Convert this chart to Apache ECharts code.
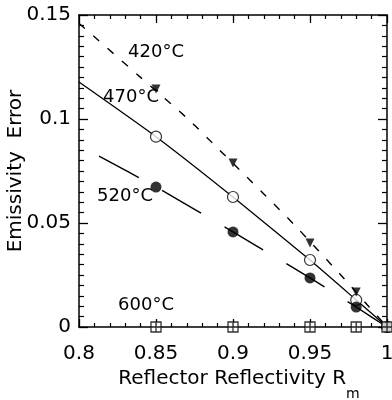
<!DOCTYPE html>
<html><head><meta charset="utf-8">
<script src="https://cdn.jsdelivr.net/npm/echarts@6/dist/echarts.min.js"></script>
<style>html,body{margin:0;padding:0;background:#fff}#c{width:392px;height:400px}</style>
</head><body><div id="c"></div>
<script>
// ---- data ----
const reflectivity = [0.85, 0.9, 0.95, 0.98, 1.0];
const err420 = [0.1144, 0.0788, 0.0404, 0.0168, 0];
const err470 = [0.0915, 0.0625, 0.0322, 0.0130, 0];
const err520 = [0.0673, 0.0457, 0.0236, 0.0096, 0];
const err600 = [0, 0, 0, 0, 0];
const curve420X = [0.8, 0.84, 0.87, 0.89, 0.92, 0.94, 0.97, 0.988, 1.0];
const curve420Y = [0.146, 0.120, 0.1005, 0.086, 0.064, 0.049, 0.025, 0.010, 0];
const curve470X = [0.8, 0.85, 0.9, 0.95, 0.98, 1.0];
const curve470Y = [0.1178, 0.0915, 0.0625, 0.0322, 0.013, 0];
const curve520X = [0.813, 0.85, 0.9, 0.95, 0.98, 1.0];
const curve520Y = [0.0822, 0.0673, 0.0457, 0.0236, 0.0096, 0];
const tempLabels = ['420°C', '470°C', '520°C', '600°C'];
const labelX = [0.850, 0.8338, 0.8299, 0.8435];
const labelY = [0.1322, 0.1106, 0.063, 0.0106];
const xTicks = { min: 0.8, max: 1.0, step: 0.05 };
const yTicks = { min: 0, max: 0.15, step: 0.05 };

// ---- build ----
const FONT = 'DejaVu Sans';
const zip = (a, b) => a.map((v, i) => [v, b[i]]);
const K = '#000';
function axisX(pos, showLabel) {
  return {
    type: 'value', position: pos, min: xTicks.min, max: xTicks.max, interval: xTicks.step,
    axisLine: { show: true, onZero: false, lineStyle: { color: K, width: 1.5 } },
    axisTick: { show: true, inside: true, length: 8, lineStyle: { color: K, width: 1.3 } },
    minorTick: { show: true, splitNumber: 5, length: 4, lineStyle: { color: K, width: 1.2 } },
    splitLine: { show: false }, minorSplitLine: { show: false },
    axisLabel: { show: showLabel, color: K, fontSize: 20, fontFamily: FONT, margin: 17 ,
      hideOverlap: false, showMinLabel: true, showMaxLabel: true },
    name: showLabel ? '{a|Reflector Reflectivity R}{s|m}' : '',
    nameLocation: 'middle', nameGap: 42, nameMoveOverlap: false,
    nameTextStyle: {
      color: K, fontFamily: FONT,
      rich: {
        a: { fontSize: 20, fontFamily: FONT, color: K, verticalAlign: 'top', lineHeight: 32, padding: [0, 0, 0, 12] },
        s: { fontSize: 14, fontFamily: FONT, color: K, verticalAlign: 'bottom', lineHeight: 32 }
      }
    }
  };
}
function axisY(pos, showLabel) {
  return {
    type: 'value', position: pos, min: yTicks.min, max: yTicks.max, interval: yTicks.step,
    axisLine: { show: true, onZero: false, lineStyle: { color: K, width: 1.5 } },
    axisTick: { show: true, inside: true, length: 9, lineStyle: { color: K, width: 1.3 } },
    minorTick: { show: true, splitNumber: 10, length: 5, lineStyle: { color: K, width: 1.2 } },
    splitLine: { show: false }, minorSplitLine: { show: false },
    axisLabel: { show: showLabel, color: K, fontSize: 20, fontFamily: FONT, margin: 8,
      showMinLabel: true, showMaxLabel: true },
    name: showLabel ? 'Emissivity  Error' : '',
    nameLocation: 'middle', nameGap: 53, nameRotate: 90, nameMoveOverlap: false,
    nameTextStyle: { color: K, fontSize: 20, fontFamily: FONT }
  };
}
const squarePlus = 'path://M0,0L10,0L10,10L0,10Z M5,0L5,10 M0,5L10,5';
const option = {
  backgroundColor: '#fff',
  animation: false,
  grid: { left: 79, right: 5, top: 15, bottom: 73, containLabel: false, outerBoundsMode: 'none' },
  xAxis: [axisX('bottom', true), axisX('top', false)],
  yAxis: [axisY('left', true), axisY('right', false)],
  series: [
    { type: 'line', data: zip(curve420X, curve420Y), smooth: 0.3, symbol: 'none',
      lineStyle: { color: K, width: 1.4, type: [8, 11] }, z: 2 },
    { type: 'line', data: zip(curve470X, curve470Y), smooth: 0.2, symbol: 'none',
      lineStyle: { color: K, width: 1.3 }, z: 2 },
    { type: 'line', data: zip(curve520X, curve520Y), smooth: 0.2, symbol: 'none',
      lineStyle: { color: K, width: 1.4, type: [45, 27] }, z: 2 },
    { type: 'scatter', data: zip(reflectivity, err420), symbol: 'triangle', symbolRotate: 180,
      symbolSize: 9, itemStyle: { color: K }, z: 4 },
    { type: 'scatter', data: zip(reflectivity, err470), symbol: 'circle', symbolSize: 11,
      itemStyle: { color: '#fff', borderColor: K, borderWidth: 1.2 }, z: 3 },
    { type: 'scatter', data: zip(reflectivity, err520), symbol: 'circle', symbolSize: 11,
      itemStyle: { color: K }, z: 5 },
    { type: 'scatter', data: zip(reflectivity, err600), symbol: squarePlus, symbolSize: 10,
      itemStyle: { color: '#fff', borderColor: K, borderWidth: 1.3 }, z: 5 }
  ]
};
const chart = echarts.init(document.getElementById('c'), null, { renderer: 'canvas' });
chart.setOption(option);
chart.setOption({
  graphic: tempLabels.map((t, i) => {
    const p = chart.convertToPixel({ xAxisIndex: 0, yAxisIndex: 0 }, [labelX[i], labelY[i]]);
    return { type: 'text', x: p[0], y: p[1], z: 10,
      style: { text: t, fill: K, font: '18px "DejaVu Sans"', align: 'center', verticalAlign: 'middle' } };
  })
});
</script></body></html>
